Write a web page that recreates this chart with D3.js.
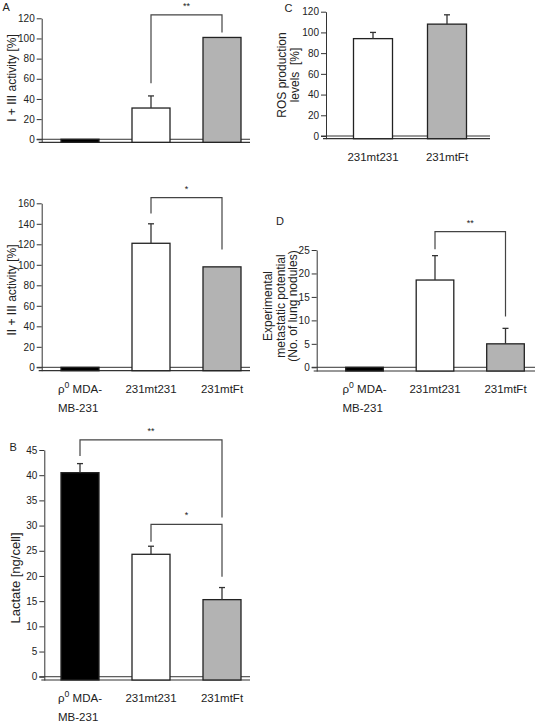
<!DOCTYPE html>
<html><head><meta charset="utf-8">
<script src="https://cdn.jsdelivr.net/npm/d3@7"></script>
<style>body{margin:0;background:#fff}svg{display:block;font-family:"Liberation Sans",Arial,sans-serif}</style>
</head><body><svg id="c" width="537" height="722"></svg>
<script>
// ---- data ----
const categories = ["ρ0 MDA-MB-231", "231mt231", "231mtFt"];
const rosCategories = ["231mt231", "231mtFt"];
const categoryLines = {"ρ0 MDA-MB-231": ["ρ0 MDA-", "MB-231"], "231mt231": ["231mt231"], "231mtFt": ["231mtFt"]};
const complexI_III = [0, 31, 101];
const complexI_III_err = [0, 12, 0];
const complexII_III = [0, 121, 98];
const complexII_III_err = [0, 19, 0];
const lactate = [40.5, 24.3, 15.3];
const lactate_err = [1.8, 1.6, 2.4];
const ros = [94, 108];
const ros_err = [6, 9];
const metastasis = [0, 18.6, 5];
const metastasis_err = [0, 5.2, 3.3];
const ticksA1 = [0, 20, 40, 60, 80, 100, 120];
const ticksA2 = [0, 20, 40, 60, 80, 100, 120, 140, 160];
const ticksB = [0, 5, 10, 15, 20, 25, 30, 35, 40, 45];
const ticksC = [0, 20, 40, 60, 80, 100, 120];
const ticksD = [0, 5, 10, 15, 20, 25];
// significance brackets: [from, to, top value, from-end value, to-end value, label]
const sigA1 = [["231mt231", "231mtFt", 123.3, 55.5, 106, "**"]];
const sigA2 = [["231mt231", "231mtFt", 165.5, 150, 115, "*"]];
const sigB = [["ρ0 MDA-MB-231", "231mtFt", 47, 43.8, 31.6, "**"], ["231mt231", "231mtFt", 30.25, 26.8, 19.85, "*"]];
const sigD = [["231mt231", "231mtFt", 28.9, 25.15, 10.8, "**"]];
const fills = {"ρ0 MDA-MB-231": "#000000", "231mt231": "#ffffff", "231mtFt": "#b3b3b3"};

const svg = d3.select("#c");
const LINE = "#333";

function addText(g, x, y, str, size, anchor) {
  const t = g.append("text").attr("x", x).attr("y", y).attr("font-size", size)
    .attr("text-anchor", anchor || "start").attr("fill", "#222");
  if (str.startsWith("ρ0")) {
    t.append("tspan").text("ρ");
    t.append("tspan").attr("baseline-shift", "super").attr("font-size", size * 0.75).text("0");
    t.append("tspan").text(str.slice(2));
  } else t.text(str);
  return t;
}

function panel(cfg) {
  const g = svg.append("g");
  const y = d3.scaleLinear().domain([cfg.ymin, cfg.ymax]).range([cfg.bottom, cfg.top]);
  const x = d3.scalePoint().domain(cfg.cats).range([cfg.c1, cfg.c2]);
  const bw = cfg.bw;
  // zero & base lines
  g.append("line").attr("x1", cfg.ax - 5).attr("x2", cfg.right).attr("y1", y(0)).attr("y2", y(0))
    .attr("stroke", LINE).attr("stroke-width", 1);
  g.append("line").attr("x1", cfg.ax - 3).attr("x2", cfg.right).attr("y1", y(cfg.ymin)).attr("y2", y(cfg.ymin))
    .attr("stroke", LINE).attr("stroke-width", 1.2);
  // axis
  const ax = g.append("g").attr("transform", `translate(${cfg.ax},0)`)
    .call(d3.axisLeft(y).tickValues(cfg.ticks).tickSize(5).tickPadding(2).tickSizeOuter(0));
  ax.selectAll("path,line").attr("stroke", LINE).attr("stroke-width", 1);
  ax.selectAll("text").attr("font-size", cfg.tickFont).attr("fill", "#222")
    .attr("font-family", '"Liberation Sans",Arial,sans-serif');
  // bars
  cfg.cats.forEach((c, i) => {
    const v = cfg.values[i];
    g.append("rect").attr("x", x(c) - bw / 2).attr("y", y(v)).attr("width", bw)
      .attr("height", y(cfg.ymin) - y(v)).attr("fill", fills[c]).attr("stroke", "#222").attr("stroke-width", 1.3);
    const e = cfg.errs[i];
    if (e > 0) {
      g.append("line").attr("x1", x(c)).attr("x2", x(c)).attr("y1", y(v)).attr("y2", y(v + e))
        .attr("stroke", "#333").attr("stroke-width", 1.3);
      g.append("line").attr("x1", x(c) - 3).attr("x2", x(c) + 3).attr("y1", y(v + e)).attr("y2", y(v + e))
        .attr("stroke", "#333").attr("stroke-width", 1.3);
    }
    // category labels
    const lines = categoryLines[c];
    const t1 = addText(g, x(c), y(cfg.ymin) + 22, lines[0], 11.5, "middle");
    if (lines.length > 1) {
      const w = t1.node().getComputedTextLength();
      addText(g, x(c) - w / 2, y(cfg.ymin) + 41, lines[1], 11.5, "start");
    }
  });
  // significance
  (cfg.sig || []).forEach(s => {
    const xa = x(s[0]), xb = x(s[1]);
    g.append("path").attr("d", `M${xa},${y(s[3])}V${y(s[2])}H${xb}V${y(s[4])}`)
      .attr("fill", "none").attr("stroke", "#444").attr("stroke-width", 1.2);
    g.append("text").attr("x", (xa + xb) / 2).attr("y", y(s[2]) - 6).attr("text-anchor", "middle")
      .attr("font-size", 9).attr("fill", "#222").text(s[5]);
  });
  // y label
  cfg.ylabel.forEach((l, i) => {
    g.append("text").attr("transform", `translate(${cfg.lx[i]},${cfg.ly}) rotate(-90)`)
      .attr("text-anchor", "middle").attr("font-size", cfg.labelFont).attr("fill", "#222")
      .attr("xml:space", "preserve").text(l);
  });
  // panel letter
  if (cfg.letter) g.append("text").attr("x", cfg.letter[1]).attr("y", cfg.letter[2])
    .attr("font-size", 11).attr("fill", "#222").text(cfg.letter[0]);
  return g;
}

const noLabels = {"ρ0 MDA-MB-231": [""], "231mt231": [""], "231mtFt": [""]};

// A top (no category labels)
(function () {
  const saved = Object.assign({}, categoryLines);
  Object.keys(categoryLines).forEach(k => categoryLines[k] = [""]);
  panel({cats: categories, values: complexI_III, errs: complexI_III_err, ticks: ticksA1,
    ymin: -3, ymax: 120, top: 18.3, bottom: 142.3, ax: 41.7, right: 250, c1: 80, c2: 222, bw: 38,
    tickFont: 10, labelFont: 12, ylabel: ["I + III activity [%]"], lx: [16], ly: 78,
    sig: sigA1, letter: ["A", 2.5, 10.7]});
  Object.assign(categoryLines, saved);
})();

panel({cats: categories, values: complexII_III, errs: complexII_III_err, ticks: ticksA2,
  ymin: -3.3, ymax: 160, top: 203.3, bottom: 370.7, ax: 41.7, right: 250, c1: 80, c2: 222, bw: 38,
  tickFont: 10, labelFont: 12, ylabel: ["II + III activity [%]"], lx: [16], ly: 290,
  sig: sigA2});

panel({cats: categories, values: lactate, errs: lactate_err, ticks: ticksB,
  ymin: -0.65, ymax: 45, top: 450, bottom: 680, ax: 44.3, right: 250, c1: 80, c2: 222, bw: 38,
  tickFont: 10, labelFont: 13, ylabel: ["Lactate [ng/cell]"], lx: [19.5], ly: 578,
  sig: sigB, letter: ["B", 9.5, 450.7]});

panel({cats: rosCategories, values: ros, errs: ros_err, ticks: ticksC,
  ymin: -2.6, ymax: 120, top: 11.7, bottom: 138.7, ax: 326, right: 490, c1: 373, c2: 447, bw: 39,
  tickFont: 10, labelFont: 12, ylabel: ["ROS production", "levels  [%]"], lx: [286, 298.5], ly: 75,
  sig: [], letter: ["C", 284.5, 11.7]});

panel({cats: categories, values: metastasis, errs: metastasis_err, ticks: ticksD,
  ymin: -0.79, ymax: 25, top: 250, bottom: 371, ax: 316.7, right: 535, c1: 364.5, c2: 505.5, bw: 37.6,
  tickFont: 10, labelFont: 12, ylabel: ["Experimental", "metastatic potential", "(No. of lung nodules)"],
  lx: [272, 284.5, 297], ly: 306, sig: sigD, letter: ["D", 276, 225]});
</script></body></html>
